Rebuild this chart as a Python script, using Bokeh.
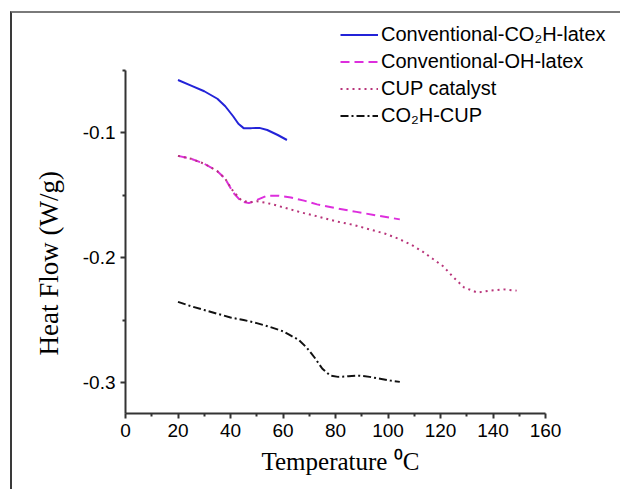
from bokeh.plotting import figure
from bokeh.models import (Legend, LegendItem, FixedTicker, Range1d,
                          PrintfTickFormatter, Title)
from bokeh.embed import file_html
from bokeh.resources import INLINE

# DSC heat-flow traces (temperature in deg C, heat flow in W/g)
co2h_latex_T = [20, 25, 30, 35, 38, 41, 43, 45, 48, 51, 54, 58, 61.5]
co2h_latex_hf = [-0.058, -0.0625, -0.067, -0.073, -0.079, -0.087, -0.093,
                 -0.0965, -0.0965, -0.0963, -0.098, -0.102, -0.106]

oh_latex_T = [20, 25, 30, 35, 38, 41, 44, 47, 50, 54, 58, 63, 68, 73, 80,
              88, 96, 104.5]
oh_latex_hf = [-0.1187, -0.121, -0.125, -0.131, -0.137, -0.148, -0.155,
               -0.1565, -0.154, -0.1505, -0.1505, -0.152, -0.1545, -0.1575,
               -0.1605, -0.1635, -0.1665, -0.1695]

cup_cat_T = [20, 25, 30, 35, 38, 41, 44, 47, 50, 53, 57, 62, 67, 73, 80, 87,
             93, 99, 104, 109, 113, 117, 121, 125, 129, 134, 139, 144, 149]
cup_cat_hf = [-0.1187, -0.121, -0.125, -0.131, -0.137, -0.147, -0.154,
              -0.156, -0.155, -0.156, -0.158, -0.161, -0.164, -0.167, -0.171,
              -0.174, -0.1775, -0.181, -0.185, -0.19, -0.195, -0.201, -0.207,
              -0.216, -0.224, -0.228, -0.2265, -0.2255, -0.2265]

co2h_cup_T = [20, 25, 30, 35, 40, 45, 50, 55, 60, 63, 66, 69, 72, 75, 78, 81,
              85, 89, 93, 97, 101, 104.5]
co2h_cup_hf = [-0.2355, -0.239, -0.242, -0.245, -0.248, -0.250, -0.2525,
               -0.2555, -0.259, -0.2625, -0.266, -0.272, -0.280, -0.289,
               -0.2945, -0.2955, -0.295, -0.2945, -0.2955, -0.297, -0.2985,
               -0.2995]

series_labels = ["Conventional-CO\u2082H-latex", "Conventional-OH-latex",
                 "CUP catalyst", "CO\u2082H-CUP"]
x_title = "Temperature \u2070C"
y_title = "Heat Flow (W/g)"

x_ticks = [0, 20, 40, 60, 80, 100, 120, 140, 160]
x_minor = [10, 30, 50, 70, 90, 110, 130, 150]
y_ticks = [-0.3, -0.2, -0.1]
y_minor = [-0.25, -0.15, -0.05]

# the plotting frame is wider/taller than the axes so the legend fits inside it;
# the axis lines themselves are limited with `bounds`
p = figure(width=610, height=478, output_backend="svg", toolbar_location=None,
           x_range=Range1d(0, 187.8), y_range=Range1d(-0.3248, -0.0088),
           min_border_left=113, min_border_right=4, min_border_top=5,
           min_border_bottom=78)
p.styles = {"margin-left": "10px", "margin-top": "11px",
            "border-left": "2px solid #3a3a3a", "border-top": "2px solid #7a7a7a"}
p.outline_line_color = None
p.xgrid.visible = False
p.ygrid.visible = False
p.background_fill_color = "white"
p.border_fill_color = "white"

r1 = p.line(co2h_latex_T, co2h_latex_hf, line_color="#2323d8", line_width=2)
r2 = p.line(oh_latex_T, oh_latex_hf, line_color="#dd2edd", line_width=2,
            line_dash="9 5")
r3 = p.line(cup_cat_T, cup_cat_hf, line_color="#b8347a", line_width=2,
            line_dash="2 4")
r4 = p.line(co2h_cup_T, co2h_cup_hf, line_color="#111111", line_width=2,
            line_dash="8 3 2 3")

for ax in (p.xaxis[0], p.yaxis[0]):
    ax.axis_line_width = 2
    ax.axis_line_color = "#333333"
    ax.major_tick_line_color = "#333333"
    ax.minor_tick_line_color = "#333333"
    ax.major_tick_line_width = 2
    ax.minor_tick_line_width = 2
    ax.major_tick_in = 0
    ax.major_tick_out = 5
    ax.minor_tick_in = 0
    ax.minor_tick_out = 3
    ax.major_label_text_font = "Liberation Sans"
    ax.major_label_text_font_size = "19px"
    ax.major_label_text_color = "black"

p.xaxis[0].bounds = (0, 160)
p.yaxis[0].bounds = (-0.3248, -0.05)
p.xaxis[0].ticker = FixedTicker(ticks=x_ticks, minor_ticks=x_minor)
p.yaxis[0].ticker = FixedTicker(ticks=y_ticks, minor_ticks=y_minor)
p.yaxis[0].formatter = PrintfTickFormatter(format="%.1f")
p.xaxis[0].major_label_standoff = 5
p.yaxis[0].major_label_standoff = 5

# axis titles placed as titles so they can be centred on the axis lines
# rather than on the (larger) plotting frame
xt = Title(text=x_title, align="left", offset=136, vertical_align="top",
           standoff=16, text_font="Liberation Serif", text_font_size="25px",
           text_font_style="normal", text_color="black")
yt = Title(text=y_title, align="left", offset=58, vertical_align="bottom",
           standoff=32, text_font="Liberation Serif", text_font_size="27px",
           text_font_style="normal", text_color="black")
p.add_layout(xt, "below")
p.add_layout(yt, "left")

legend = Legend(
    items=[LegendItem(label=series_labels[0], renderers=[r1]),
           LegendItem(label=series_labels[1], renderers=[r2]),
           LegendItem(label=series_labels[2], renderers=[r3]),
           LegendItem(label=series_labels[3], renderers=[r4])],
    location=(215, 286), orientation="vertical",
    background_fill_alpha=0, border_line_alpha=0,
    padding=0, margin=0, spacing=4,
    glyph_width=38, glyph_height=23, label_height=23, label_standoff=3,
    label_text_font="Liberation Sans", label_text_font_size="20px",
    label_text_color="black",
)
p.add_layout(legend, "center")

open("out.html", "w").write(file_html(p, INLINE))
